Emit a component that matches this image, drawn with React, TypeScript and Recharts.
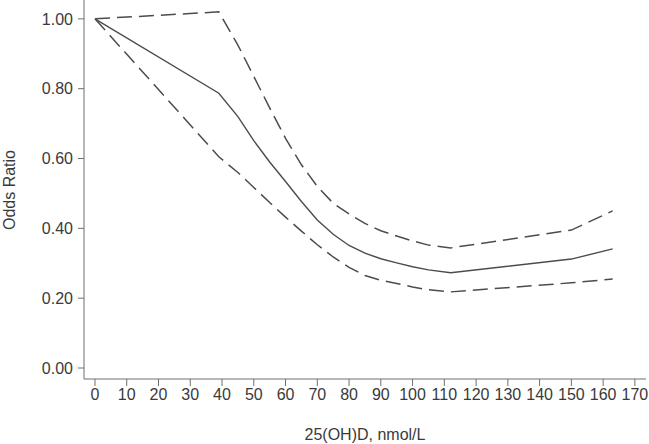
import { CartesianGrid, Line, LineChart, XAxis, YAxis } from "recharts";

const vitaminD = [0, 39, 45, 50, 55, 60, 65, 70, 75, 80, 85, 90, 95, 100, 105, 112, 150, 163];
const oddsRatio = [
  1.0, 0.787, 0.72, 0.651, 0.59, 0.534, 0.477, 0.424, 0.383, 0.351, 0.329, 0.313, 0.301,
  0.29, 0.281, 0.273, 0.312, 0.341,
];
const upperCI = [
  1.0, 1.02, 0.925, 0.835, 0.745, 0.658, 0.582, 0.52, 0.472, 0.441, 0.414, 0.393, 0.378,
  0.364, 0.352, 0.344, 0.395, 0.45,
];
const lowerCI = [
  1.0, 0.605, 0.56, 0.517, 0.474, 0.432, 0.392, 0.353, 0.318, 0.288, 0.265, 0.251, 0.242,
  0.232, 0.224, 0.218, 0.244, 0.255,
];
const xTicks = [0, 10, 20, 30, 40, 50, 60, 70, 80, 90, 100, 110, 120, 130, 140, 150, 160, 170];
const yTicks = [0, 0.2, 0.4, 0.6, 0.8, 1.0];

const data = vitaminD.map((x, i) => ({
  x,
  or: oddsRatio[i],
  hi: upperCI[i],
  lo: lowerCI[i],
}));

const FONT = "'Liberation Sans', Arial, Helvetica, sans-serif";
const AXIS = "#6f6f6f";
const INK = "#3a3a3a";
const LINE = "#4c4c4c";

export default function App() {
  return (
    <div style={{ position: "absolute", left: 0, top: 0, background: "#fff" }}>
      <LineChart
        width={649}
        height={444}
        data={data}
        margin={{ top: 0, right: 3, bottom: 0, left: 0 }}
        style={{ fontFamily: FONT }}
      >
        <CartesianGrid stroke="none" />
        <XAxis
          type="number"
          dataKey="x"
          domain={[-3.46, 173.5]}
          ticks={xTicks}
          allowDataOverflow
          height={65}
          tickSize={7}
          tickMargin={3}
          stroke={AXIS}
          tick={{ fontSize: 16, fill: INK }}
          label={{
            value: "25(OH)D, nmol/L",
            position: "insideBottom",
            offset: 4,
            fontSize: 16,
            fill: INK,
          }}
        />
        <YAxis
          type="number"
          domain={[-0.0315, 1.054]}
          ticks={yTicks}
          allowDataOverflow
          width={84}
          tickSize={6}
          tickMargin={5}
          stroke={AXIS}
          tick={{ fontSize: 16, fill: INK }}
          tickFormatter={(v: number) => v.toFixed(2)}
          label={{
            content: () => (
              <text
                x={15}
                y={190}
                transform="rotate(-90, 15, 190)"
                textAnchor="middle"
                fontSize={16}
                fill={INK}
              >
                Odds Ratio
              </text>
            ),
          }}
        />
        <Line
          type="linear"
          dataKey="hi"
          stroke={LINE}
          strokeWidth={1.5}
          strokeDasharray="15 7"
          dot={false}
          isAnimationActive={false}
        />
        <Line
          type="linear"
          dataKey="or"
          stroke={LINE}
          strokeWidth={1.4}
          dot={false}
          isAnimationActive={false}
        />
        <Line
          type="linear"
          dataKey="lo"
          stroke={LINE}
          strokeWidth={1.5}
          strokeDasharray="15 7"
          dot={false}
          isAnimationActive={false}
        />
      </LineChart>
    </div>
  );
}
